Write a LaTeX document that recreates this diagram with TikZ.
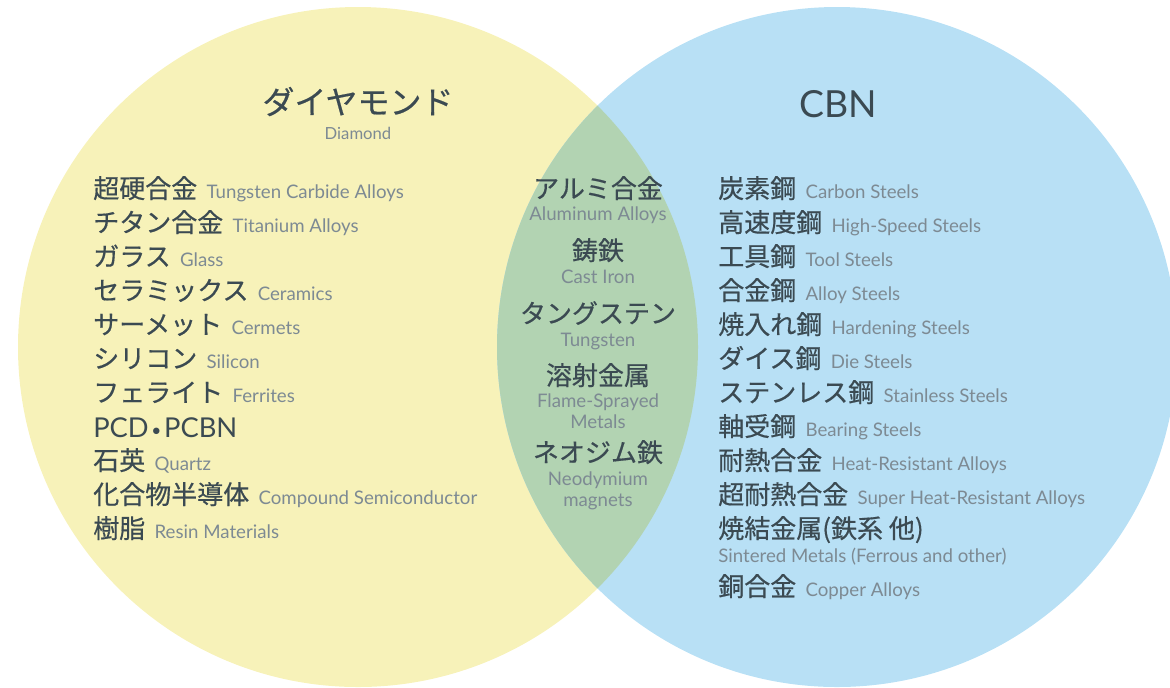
\documentclass[tikz,border=0pt]{standalone}
\usepackage{fontspec}
\setmainfont{Lato}
\newfontfamily\jpfont[FakeBold=0.5]{Noto Sans CJK JP}
\definecolor{yel}{HTML}{F7F2B9}
\definecolor{blu}{HTML}{B8E0F5}
\definecolor{grn}{HTML}{B2D3B2}
\definecolor{darktext}{HTML}{3B4A52}
\definecolor{greytext}{HTML}{7D8A93}
\newcommand{\JPt}[1]{{\jpfont\fontsize{19.5}{22}\selectfont\color{darktext}#1}}
\newcommand{\ENt}[1]{{\fontsize{14}{16}\selectfont\color{greytext}#1}}
\tikzset{
  item/.style={anchor=base west, inner sep=0pt},
  midjp/.style={anchor=base, inner sep=0pt},
  miden/.style={anchor=base, inner sep=0pt, font=\fontsize{14}{16}\selectfont, text=greytext},
}
\begin{document}
\begin{tikzpicture}[x=0.75pt,y=-0.75pt]
\useasboundingbox (0,0) rectangle (1170,687);
\clip (0,0) rectangle (1170,687);
\fill[yel] (358,347) circle (340);
\fill[blu] (837,347) circle (340);
\begin{scope}
  \clip (358,347) circle (340);
  \fill[grn] (837,347) circle (340);
\end{scope}

% titles
\node[anchor=base, inner sep=0pt] (tdia) at (358,114) {\jpfont\fontsize{24}{28}\selectfont\color{darktext}ダイヤモンド};
\node[anchor=base, inner sep=0pt] (tdiaen) at (358,139) {\fontsize{12.5}{14}\selectfont\color{greytext}Diamond};
\node[anchor=base, inner sep=0pt] (tcbn) at (838,117) {\fontsize{28}{32}\selectfont\color{darktext}CBN};

% left column
\node[item] (l1) at (93,198) {\JPt{超硬合金}\hspace{7pt}\ENt{Tungsten Carbide Alloys}};
\node[item] (l2) at (93,232) {\JPt{チタン合金}\hspace{7pt}\ENt{Titanium Alloys}};
\node[item] (l3) at (93,266) {\JPt{ガラス}\hspace{7pt}\ENt{Glass}};
\node[item] (l4) at (93,300) {\JPt{セラミックス}\hspace{7pt}\ENt{Ceramics}};
\node[item] (l5) at (93,334) {\JPt{サーメット}\hspace{7pt}\ENt{Cermets}};
\node[item] (l6) at (93,368) {\JPt{シリコン}\hspace{7pt}\ENt{Silicon}};
\node[item] (l7) at (93,402) {\JPt{フェライト}\hspace{7pt}\ENt{Ferrites}};
\node[item] (l8) at (93,437) {\fontsize{20.5}{22}\selectfont\color{darktext}PCD\kern2pt\raisebox{0.5pt}{\fontsize{13}{13}\selectfont\textbullet}\kern2pt PCBN};
\node[item] (l9) at (93,470) {\JPt{石英}\hspace{7pt}\ENt{Quartz}};
\node[item] (l10) at (93,504) {\JPt{化合物半導体}\hspace{7pt}\ENt{Compound Semiconductor}};
\node[item] (l11) at (93,538) {\JPt{樹脂}\hspace{7pt}\ENt{Resin Materials}};

% middle column
\node[midjp] (m1) at (598,198) {\JPt{アルミ合金}};
\node[miden] (m1e) at (598,220) {Aluminum Alloys};
\node[midjp] (m2) at (598,260) {\JPt{鋳鉄}};
\node[miden] (m2e) at (598,283) {Cast Iron};
\node[midjp] (m3) at (598,323) {\JPt{タングステン}};
\node[miden] (m3e) at (598,346) {Tungsten};
\node[midjp] (m4) at (598,385) {\JPt{溶射金属}};
\node[miden] (m4e) at (598,407) {Flame-Sprayed};
\node[miden] (m4f) at (598,428) {Metals};
\node[midjp] (m5) at (598,462) {\JPt{ネオジム鉄}};
\node[miden] (m5e) at (598,485) {Neodymium};
\node[miden] (m5f) at (598,506) {magnets};

% right column
\node[item] (r1) at (718,198) {\JPt{炭素鋼}\hspace{7pt}\ENt{Carbon Steels}};
\node[item] (r2) at (718,232) {\JPt{高速度鋼}\hspace{7pt}\ENt{High-Speed Steels}};
\node[item] (r3) at (718,266) {\JPt{工具鋼}\hspace{7pt}\ENt{Tool Steels}};
\node[item] (r4) at (718,300) {\JPt{合金鋼}\hspace{7pt}\ENt{Alloy Steels}};
\node[item] (r5) at (718,334) {\JPt{焼入れ鋼}\hspace{7pt}\ENt{Hardening Steels}};
\node[item] (r6) at (718,368) {\JPt{ダイス鋼}\hspace{7pt}\ENt{Die Steels}};
\node[item] (r7) at (718,402) {\JPt{ステンレス鋼}\hspace{7pt}\ENt{Stainless Steels}};
\node[item] (r8) at (718,436) {\JPt{軸受鋼}\hspace{7pt}\ENt{Bearing Steels}};
\node[item] (r9) at (718,470) {\JPt{耐熱合金}\hspace{7pt}\ENt{Heat-Resistant Alloys}};
\node[item] (r10) at (718,504) {\JPt{超耐熱合金}\hspace{7pt}\ENt{Super Heat-Resistant Alloys}};
\node[item] (r11) at (718,538) {\JPt{焼結金属(鉄系 他)}};
\node[item] (r11e) at (718,562) {\ENt{Sintered Metals (Ferrous and other)}};
\node[item] (r12) at (718,596) {\JPt{銅合金}\hspace{7pt}\ENt{Copper Alloys}};
\end{tikzpicture}
\end{document}
